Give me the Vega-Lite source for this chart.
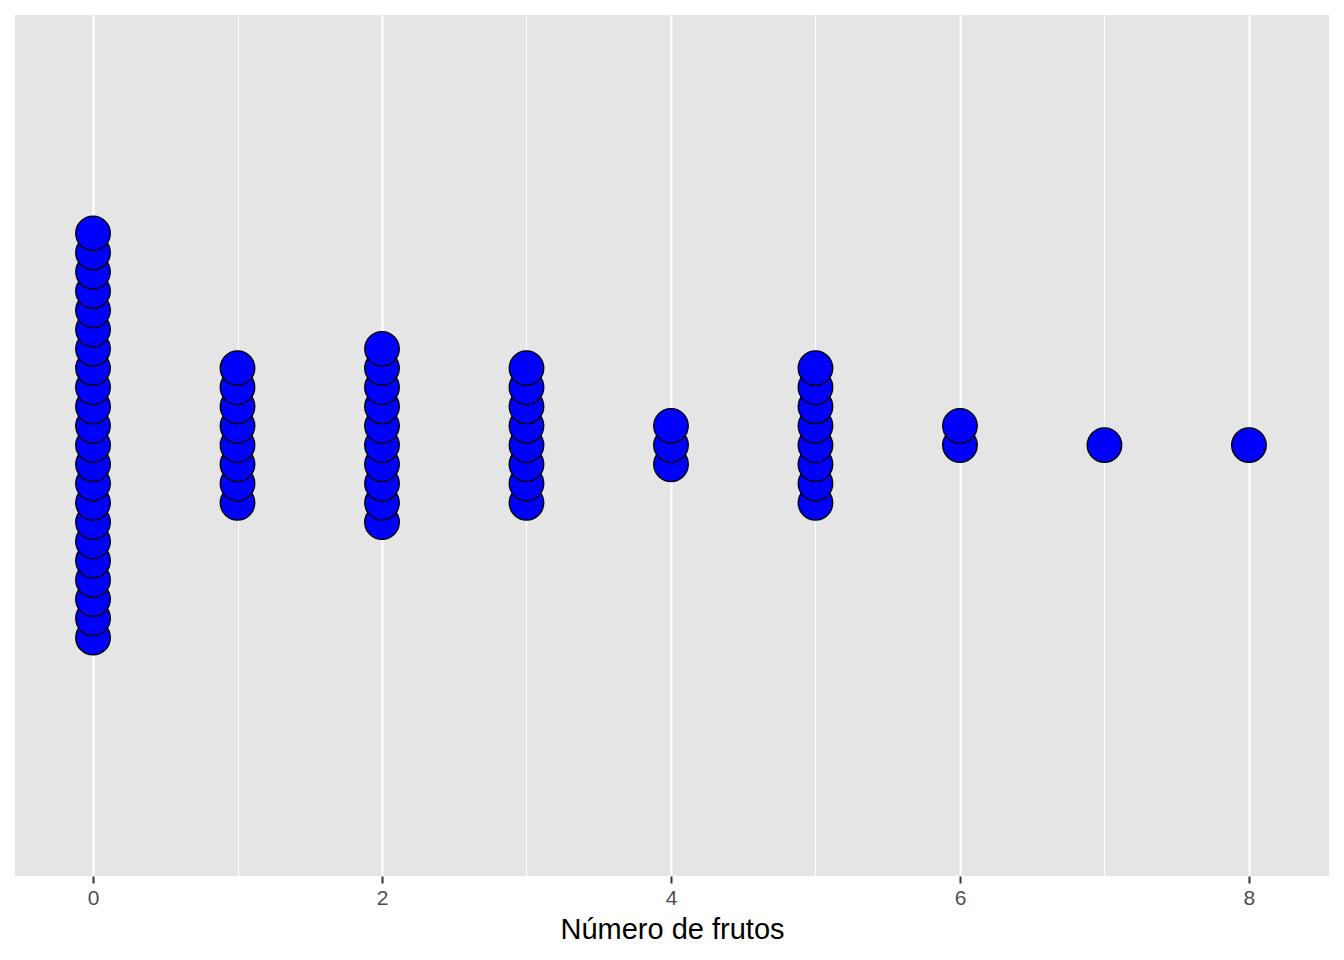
{
  "$schema": "https://vega.github.io/schema/vega-lite/v6.json",
  "width": 1314,
  "height": 861,
  "autosize": {"type": "none"},
  "padding": {"left": 15, "top": 15, "right": 15, "bottom": 84},
  "background": "white",
  "config": {
    "view": {"stroke": null, "fill": "#E5E5E5"},
    "font": "Liberation Sans"
  },
  "data": {
    "values": [
      {"frutos": 0},{"frutos": 0},{"frutos": 0},{"frutos": 0},{"frutos": 0},{"frutos": 0},{"frutos": 0},{"frutos": 0},{"frutos": 0},{"frutos": 0},{"frutos": 0},
      {"frutos": 0},{"frutos": 0},{"frutos": 0},{"frutos": 0},{"frutos": 0},{"frutos": 0},{"frutos": 0},{"frutos": 0},{"frutos": 0},{"frutos": 0},{"frutos": 0},
      {"frutos": 1},{"frutos": 1},{"frutos": 1},{"frutos": 1},{"frutos": 1},{"frutos": 1},{"frutos": 1},{"frutos": 1},
      {"frutos": 2},{"frutos": 2},{"frutos": 2},{"frutos": 2},{"frutos": 2},{"frutos": 2},{"frutos": 2},{"frutos": 2},{"frutos": 2},{"frutos": 2},
      {"frutos": 3},{"frutos": 3},{"frutos": 3},{"frutos": 3},{"frutos": 3},{"frutos": 3},{"frutos": 3},{"frutos": 3},
      {"frutos": 4},{"frutos": 4},{"frutos": 4},
      {"frutos": 5},{"frutos": 5},{"frutos": 5},{"frutos": 5},{"frutos": 5},{"frutos": 5},{"frutos": 5},{"frutos": 5},
      {"frutos": 6},{"frutos": 6},
      {"frutos": 7},
      {"frutos": 8}
    ]
  },
  "transform": [
    {"window": [{"op": "row_number", "as": "rank"}], "groupby": ["frutos"]},
    {"joinaggregate": [{"op": "count", "as": "n"}], "groupby": ["frutos"]},
    {"calculate": "datum.rank - 0.5 - ceil(datum.n / 2)", "as": "pos"}
  ],
  "mark": {
    "type": "point",
    "shape": "circle",
    "filled": true,
    "fill": "#0000FF",
    "stroke": "black",
    "strokeWidth": 1.4,
    "size": 1190,
    "opacity": 1,
    "fillOpacity": 1
  },
  "encoding": {
    "x": {
      "field": "frutos",
      "type": "quantitative",
      "scale": {"domain": [-0.54, 8.554], "nice": false, "zero": false},
      "axis": {
        "title": "Número de frutos",
        "values": [0, 1, 2, 3, 4, 5, 6, 7, 8],
        "labelExpr": "datum.value % 2 === 0 ? datum.label : ''",
        "grid": true,
        "gridColor": "white",
        "gridWidth": {"condition": {"test": "datum.value % 2 === 1", "value": 1}, "value": 2},
        "domain": false,
        "ticks": true,
        "tickColor": {"condition": {"test": "datum.value % 2 === 1", "value": "transparent"}, "value": "#333333"},
        "tickWidth": 2,
        "tickSize": 7,
        "labelFontSize": 21,
        "labelColor": "#4D4D4D",
        "labelPadding": 4,
        "labelFont": "Liberation Sans",
        "titleFontSize": 29,
        "titleFontWeight": "normal",
        "titleColor": "black",
        "titlePadding": 7,
        "titleFont": "Liberation Sans"
      }
    },
    "y": {
      "field": "pos",
      "type": "quantitative",
      "scale": {"domain": [-22.88, 21.84], "nice": false, "zero": false},
      "axis": null
    }
  }
}
